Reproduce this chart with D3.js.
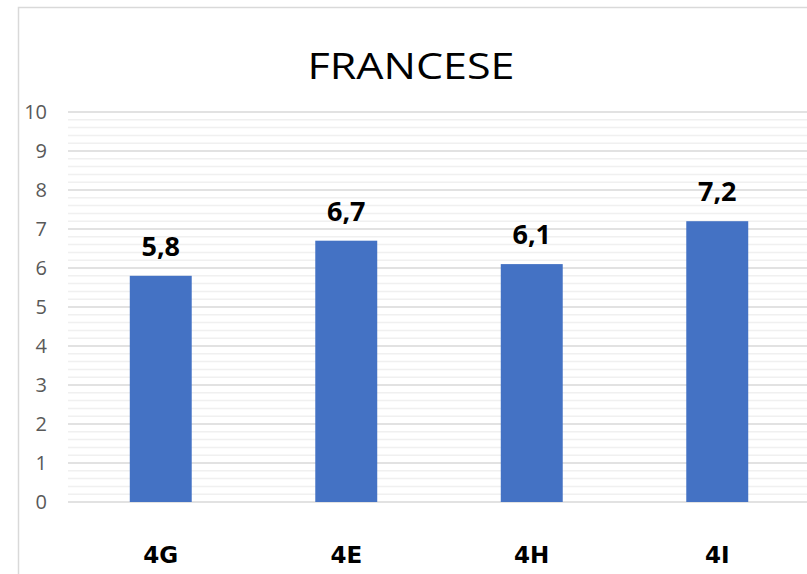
<!DOCTYPE html>
<html>
<head>
<meta charset="utf-8">
<script src="https://cdn.jsdelivr.net/npm/d3@7"></script>
<style>
  body { margin: 0; background: #fff; }
  svg { display: block; }
</style>
</head>
<body>
<div id="chart"></div>
<script>
// data
const classes = ['4G', '4E', '4H', '4I'];
const grades = [5.8, 6.7, 6.1, 7.2];
const yTicks = [0, 1, 2, 3, 4, 5, 6, 7, 8, 9, 10];
const chartTitle = 'FRANCESE';

const width = 807, height = 574;

const svg = d3.select('#chart').append('svg')
  .attr('width', width)
  .attr('height', height);

// chart frame (runs off the right and bottom)
svg.append('rect')
  .attr('x', 18.5)
  .attr('y', 7.5)
  .attr('width', 900)
  .attr('height', 700)
  .attr('fill', '#fff')
  .attr('stroke', '#d9d9d9')
  .attr('stroke-width', 1.5);

const x = d3.scaleBand()
  .domain(classes)
  .range([68, 810])
  .paddingInner(0.666)
  .paddingOuter(0.333);

const y = d3.scaleLinear()
  .domain([0, 10])
  .range([502, 112]);

// minor gridlines
svg.append('g')
  .selectAll('line')
  .data(d3.range(0, 10.01, 0.2).filter(v => Math.abs(v - Math.round(v)) > 0.01))
  .join('line')
  .attr('x1', 68)
  .attr('x2', 810)
  .attr('y1', d => y(d))
  .attr('y2', d => y(d))
  .attr('stroke', '#f0f0f0')
  .attr('stroke-width', 1.5);

// major gridlines
svg.append('g')
  .selectAll('line')
  .data(yTicks)
  .join('line')
  .attr('x1', 68)
  .attr('x2', 810)
  .attr('y1', d => y(d))
  .attr('y2', d => y(d))
  .attr('stroke', '#d9d9d9')
  .attr('stroke-width', 1.5);

// y axis labels
const yAxis = svg.append('g')
  .attr('transform', 'translate(47,0)')
  .call(d3.axisLeft(y).tickValues(yTicks).tickSize(0).tickPadding(0));
yAxis.select('.domain').remove();
yAxis.selectAll('text')
  .attr('fill', '#595959')
  .attr('font-family', 'Open Sans, sans-serif')
  .attr('font-size', 20);

// bars
svg.append('g')
  .selectAll('rect')
  .data(grades)
  .join('rect')
  .attr('x', (d, i) => x(classes[i]))
  .attr('y', d => y(d))
  .attr('width', x.bandwidth())
  .attr('height', d => y(0) - y(d))
  .attr('fill', '#4472c4');

// value labels
svg.append('g')
  .selectAll('text')
  .data(grades)
  .join('text')
  .attr('x', (d, i) => x(classes[i]) + x.bandwidth() / 2)
  .attr('y', d => y(d) - 20)
  .attr('text-anchor', 'middle')
  .attr('font-family', 'Open Sans, sans-serif')
  .attr('font-weight', 'bold')
  .attr('font-size', 27)
  .attr('fill', '#000')
  .text(d => String(d).replace('.', ','));

// category labels
svg.append('g')
  .selectAll('text')
  .data(classes)
  .join('text')
  .attr('x', d => x(d) + x.bandwidth() / 2)
  .attr('y', 563)
  .attr('text-anchor', 'middle')
  .attr('font-family', 'DejaVu Sans, sans-serif')
  .attr('font-weight', 'bold')
  .attr('font-size', 23)
  .attr('fill', '#000')
  .text(d => d);

// title
svg.append('text')
  .attr('x', 411)
  .attr('y', 79)
  .attr('text-anchor', 'middle')
  .attr('font-family', 'Open Sans, sans-serif')
  .attr('font-size', 37)
  .attr('textLength', 207)
  .attr('lengthAdjust', 'spacingAndGlyphs')
  .attr('fill', '#000')
  .text(chartTitle);
</script>
</body>
</html>
